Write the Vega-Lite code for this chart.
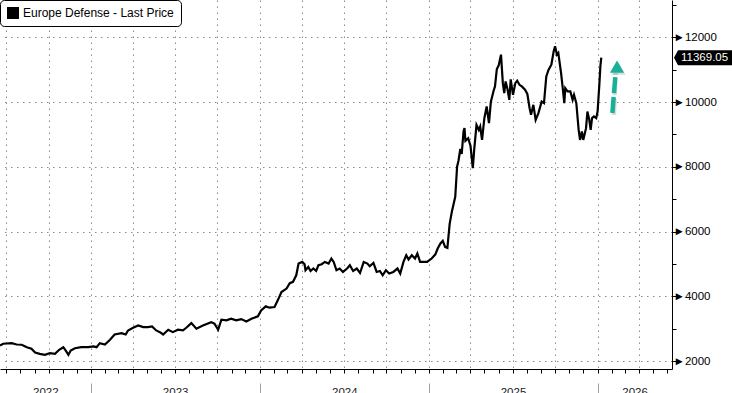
{
  "$schema": "https://vega.github.io/schema/vega-lite/v6.json",
  "width": 672,
  "height": 369,
  "autosize": {"type": "none"},
  "padding": {"left": 0, "top": 0, "right": 60, "bottom": 24},
  "background": "white",
  "config": {
    "view": {"stroke": null},
    "font": "Liberation Sans",
    "axis": {"labelFont": "Liberation Sans", "labelFontSize": 11.5, "labelColor": "#111", "title": null}
  },
  "data": {"values": [
    {"date": "2022-06-18", "price": 2486}, {"date": "2022-06-25", "price": 2539}, {"date": "2022-07-13", "price": 2557},
    {"date": "2022-07-24", "price": 2517}, {"date": "2022-08-04", "price": 2508}, {"date": "2022-08-15", "price": 2433},
    {"date": "2022-08-25", "price": 2384}, {"date": "2022-09-02", "price": 2269}, {"date": "2022-09-12", "price": 2229},
    {"date": "2022-09-23", "price": 2198}, {"date": "2022-10-04", "price": 2248}, {"date": "2022-10-15", "price": 2229},
    {"date": "2022-10-24", "price": 2353}, {"date": "2022-11-02", "price": 2433}, {"date": "2022-11-08", "price": 2310},
    {"date": "2022-11-13", "price": 2198}, {"date": "2022-11-18", "price": 2331}, {"date": "2022-11-27", "price": 2402},
    {"date": "2022-12-11", "price": 2433}, {"date": "2022-12-26", "price": 2433}, {"date": "2023-01-06", "price": 2455},
    {"date": "2023-01-13", "price": 2433}, {"date": "2023-01-20", "price": 2557}, {"date": "2023-01-31", "price": 2517},
    {"date": "2023-02-11", "price": 2662}, {"date": "2023-02-21", "price": 2826}, {"date": "2023-03-08", "price": 2867},
    {"date": "2023-03-17", "price": 2826}, {"date": "2023-03-22", "price": 2950}, {"date": "2023-04-02", "price": 3034},
    {"date": "2023-04-13", "price": 3105}, {"date": "2023-04-24", "price": 3053}, {"date": "2023-05-04", "price": 3053},
    {"date": "2023-05-13", "price": 3074}, {"date": "2023-05-22", "price": 2950}, {"date": "2023-05-30", "price": 2898},
    {"date": "2023-06-06", "price": 2826}, {"date": "2023-06-17", "price": 2972}, {"date": "2023-06-27", "price": 2898},
    {"date": "2023-07-08", "price": 2972}, {"date": "2023-07-19", "price": 2950}, {"date": "2023-07-26", "price": 3034},
    {"date": "2023-08-06", "price": 3176}, {"date": "2023-08-17", "price": 3003}, {"date": "2023-08-31", "price": 3105},
    {"date": "2023-09-18", "price": 3207}, {"date": "2023-09-25", "price": 3158}, {"date": "2023-10-03", "price": 2972},
    {"date": "2023-10-10", "price": 3282}, {"date": "2023-10-21", "price": 3260}, {"date": "2023-10-31", "price": 3313},
    {"date": "2023-11-11", "price": 3260}, {"date": "2023-11-22", "price": 3300}, {"date": "2023-12-03", "price": 3229},
    {"date": "2023-12-14", "price": 3313}, {"date": "2023-12-28", "price": 3384}, {"date": "2024-01-04", "price": 3570},
    {"date": "2024-01-14", "price": 3694}, {"date": "2024-01-22", "price": 3653}, {"date": "2024-02-02", "price": 3672},
    {"date": "2024-02-09", "price": 3879}, {"date": "2024-02-17", "price": 4136}, {"date": "2024-02-28", "price": 4242},
    {"date": "2024-03-06", "price": 4410}, {"date": "2024-03-13", "price": 4450}, {"date": "2024-03-20", "price": 4653},
    {"date": "2024-03-25", "price": 5015}, {"date": "2024-04-02", "price": 5065}, {"date": "2024-04-07", "price": 4994},
    {"date": "2024-04-09", "price": 4808}, {"date": "2024-04-15", "price": 4910}, {"date": "2024-04-20", "price": 4786},
    {"date": "2024-04-26", "price": 4861}, {"date": "2024-05-02", "price": 4786}, {"date": "2024-05-07", "price": 4963},
    {"date": "2024-05-14", "price": 4994}, {"date": "2024-05-21", "price": 5065}, {"date": "2024-05-29", "price": 5015},
    {"date": "2024-06-04", "price": 5170}, {"date": "2024-06-09", "price": 5065}, {"date": "2024-06-15", "price": 4808},
    {"date": "2024-06-22", "price": 4861}, {"date": "2024-06-29", "price": 4755}, {"date": "2024-07-08", "price": 4861},
    {"date": "2024-07-14", "price": 4963}, {"date": "2024-07-21", "price": 4786}, {"date": "2024-07-29", "price": 4861},
    {"date": "2024-08-05", "price": 4724}, {"date": "2024-08-13", "price": 5065}, {"date": "2024-08-21", "price": 5015},
    {"date": "2024-08-26", "price": 4932}, {"date": "2024-09-03", "price": 5034}, {"date": "2024-09-10", "price": 4755},
    {"date": "2024-09-17", "price": 4786}, {"date": "2024-09-23", "price": 4653}, {"date": "2024-09-30", "price": 4808},
    {"date": "2024-10-07", "price": 4706}, {"date": "2024-10-16", "price": 4755}, {"date": "2024-10-25", "price": 4861},
    {"date": "2024-10-31", "price": 4706}, {"date": "2024-11-07", "price": 5065}, {"date": "2024-11-13", "price": 5272},
    {"date": "2024-11-18", "price": 5139}, {"date": "2024-11-25", "price": 5272}, {"date": "2024-12-02", "price": 5170},
    {"date": "2024-12-07", "price": 5325}, {"date": "2024-12-13", "price": 5065}, {"date": "2024-12-20", "price": 5065},
    {"date": "2024-12-28", "price": 5065}, {"date": "2025-01-07", "price": 5170}, {"date": "2025-01-15", "price": 5300},
    {"date": "2025-01-20", "price": 5480}, {"date": "2025-01-26", "price": 5635}, {"date": "2025-01-31", "price": 5716},
    {"date": "2025-02-05", "price": 5530}, {"date": "2025-02-10", "price": 5500}, {"date": "2025-02-15", "price": 6250},
    {"date": "2025-02-20", "price": 6640}, {"date": "2025-02-23", "price": 6820}, {"date": "2025-02-27", "price": 7077},
    {"date": "2025-03-03", "price": 8006}, {"date": "2025-03-06", "price": 8190}, {"date": "2025-03-10", "price": 8550},
    {"date": "2025-03-13", "price": 8400}, {"date": "2025-03-17", "price": 9100}, {"date": "2025-03-19", "price": 9193},
    {"date": "2025-03-21", "price": 8800}, {"date": "2025-03-27", "price": 8884}, {"date": "2025-04-01", "price": 8650},
    {"date": "2025-04-06", "price": 7957}, {"date": "2025-04-09", "price": 8522}, {"date": "2025-04-14", "price": 9296},
    {"date": "2025-04-19", "price": 9141}, {"date": "2025-04-22", "price": 9245}, {"date": "2025-04-26", "price": 8832},
    {"date": "2025-05-01", "price": 9500}, {"date": "2025-05-06", "price": 9864}, {"date": "2025-05-11", "price": 9348},
    {"date": "2025-05-15", "price": 10000}, {"date": "2025-05-21", "price": 10350}, {"date": "2025-05-24", "price": 10482},
    {"date": "2025-05-28", "price": 11020}, {"date": "2025-06-01", "price": 11130}, {"date": "2025-06-06", "price": 11464},
    {"date": "2025-06-10", "price": 10584}, {"date": "2025-06-13", "price": 10275}, {"date": "2025-06-16", "price": 10636},
    {"date": "2025-06-20", "price": 10400}, {"date": "2025-06-24", "price": 10069}, {"date": "2025-06-27", "price": 10700},
    {"date": "2025-07-02", "price": 10224}, {"date": "2025-07-07", "price": 10584}, {"date": "2025-07-11", "price": 10660},
    {"date": "2025-07-16", "price": 10533}, {"date": "2025-07-21", "price": 10482}, {"date": "2025-07-28", "price": 10379},
    {"date": "2025-08-02", "price": 10250}, {"date": "2025-08-07", "price": 9800}, {"date": "2025-08-10", "price": 9606},
    {"date": "2025-08-15", "price": 9915}, {"date": "2025-08-20", "price": 9451}, {"date": "2025-08-26", "price": 9657},
    {"date": "2025-09-02", "price": 10017}, {"date": "2025-09-07", "price": 9967}, {"date": "2025-09-12", "price": 10792},
    {"date": "2025-09-17", "price": 10998}, {"date": "2025-09-23", "price": 11154}, {"date": "2025-09-28", "price": 11567},
    {"date": "2025-10-01", "price": 11722}, {"date": "2025-10-05", "price": 11464}, {"date": "2025-10-08", "price": 11516},
    {"date": "2025-10-14", "price": 10894}, {"date": "2025-10-18", "price": 10379}, {"date": "2025-10-21", "price": 9967},
    {"date": "2025-10-23", "price": 10430}, {"date": "2025-10-28", "price": 10327}, {"date": "2025-11-03", "price": 10327},
    {"date": "2025-11-08", "price": 10069}, {"date": "2025-11-11", "price": 10224}, {"date": "2025-11-16", "price": 9967},
    {"date": "2025-11-21", "price": 9142}, {"date": "2025-11-24", "price": 8832}, {"date": "2025-11-28", "price": 9090},
    {"date": "2025-12-01", "price": 8832}, {"date": "2025-12-07", "price": 9193}, {"date": "2025-12-10", "price": 9709},
    {"date": "2025-12-14", "price": 9451}, {"date": "2025-12-17", "price": 9142}, {"date": "2025-12-20", "price": 9503},
    {"date": "2025-12-24", "price": 9555}, {"date": "2025-12-29", "price": 9503}, {"date": "2026-01-01", "price": 9709},
    {"date": "2026-01-05", "price": 10584}, {"date": "2026-01-07", "price": 11101}, {"date": "2026-01-09", "price": 11369.05}
  ]},
  "resolve": {"axis": {"x": "independent", "y": "independent"}},
  "layer": [
    {
      "mark": {"type": "line", "strokeWidth": 2.2, "interpolate": "linear"},
      "encoding": {
        "x": {"field": "date", "type": "temporal",
          "scale": {"type": "utc", "domain": [{"year": 2022, "month": 6, "date": 18, "utc": true}, {"year": 2026, "month": 6, "date": 11, "utc": true}]},
          "axis": {"orient": "bottom", "labels": false, "grid": false, "ticks": true, "tickSize": 4, "tickColor": "black", "domain": true, "domainColor": "black", "domainWidth": 1,
            "values": [
              {"year": 2022, "month": 7, "date": 1, "utc": true}, {"year": 2022, "month": 8, "date": 1, "utc": true}, {"year": 2022, "month": 9, "date": 1, "utc": true},
              {"year": 2022, "month": 10, "date": 1, "utc": true}, {"year": 2022, "month": 11, "date": 1, "utc": true}, {"year": 2022, "month": 12, "date": 1, "utc": true},
              {"year": 2023, "month": 1, "date": 1, "utc": true}, {"year": 2023, "month": 2, "date": 1, "utc": true}, {"year": 2023, "month": 3, "date": 1, "utc": true},
              {"year": 2023, "month": 4, "date": 1, "utc": true}, {"year": 2023, "month": 5, "date": 1, "utc": true}, {"year": 2023, "month": 6, "date": 1, "utc": true},
              {"year": 2023, "month": 7, "date": 1, "utc": true}, {"year": 2023, "month": 8, "date": 1, "utc": true}, {"year": 2023, "month": 9, "date": 1, "utc": true},
              {"year": 2023, "month": 10, "date": 1, "utc": true}, {"year": 2023, "month": 11, "date": 1, "utc": true}, {"year": 2023, "month": 12, "date": 1, "utc": true},
              {"year": 2024, "month": 1, "date": 1, "utc": true}, {"year": 2024, "month": 2, "date": 1, "utc": true}, {"year": 2024, "month": 3, "date": 1, "utc": true},
              {"year": 2024, "month": 4, "date": 1, "utc": true}, {"year": 2024, "month": 5, "date": 1, "utc": true}, {"year": 2024, "month": 6, "date": 1, "utc": true},
              {"year": 2024, "month": 7, "date": 1, "utc": true}, {"year": 2024, "month": 8, "date": 1, "utc": true}, {"year": 2024, "month": 9, "date": 1, "utc": true},
              {"year": 2024, "month": 10, "date": 1, "utc": true}, {"year": 2024, "month": 11, "date": 1, "utc": true}, {"year": 2024, "month": 12, "date": 1, "utc": true},
              {"year": 2025, "month": 1, "date": 1, "utc": true}, {"year": 2025, "month": 2, "date": 1, "utc": true}, {"year": 2025, "month": 3, "date": 1, "utc": true},
              {"year": 2025, "month": 4, "date": 1, "utc": true}, {"year": 2025, "month": 5, "date": 1, "utc": true}, {"year": 2025, "month": 6, "date": 1, "utc": true},
              {"year": 2025, "month": 7, "date": 1, "utc": true}, {"year": 2025, "month": 8, "date": 1, "utc": true}, {"year": 2025, "month": 9, "date": 1, "utc": true},
              {"year": 2025, "month": 10, "date": 1, "utc": true}, {"year": 2025, "month": 11, "date": 1, "utc": true}, {"year": 2025, "month": 12, "date": 1, "utc": true},
              {"year": 2026, "month": 1, "date": 1, "utc": true}, {"year": 2026, "month": 2, "date": 1, "utc": true}, {"year": 2026, "month": 3, "date": 1, "utc": true},
              {"year": 2026, "month": 4, "date": 1, "utc": true}, {"year": 2026, "month": 5, "date": 1, "utc": true}, {"year": 2026, "month": 6, "date": 1, "utc": true}
            ]}},
        "y": {"field": "price", "type": "quantitative",
          "scale": {"domain": [1760, 13150], "nice": false, "zero": false},
          "axis": {"orient": "right", "labels": false, "grid": false, "tickSize": 4, "tickColor": "black", "domainColor": "black", "domainWidth": 1,
            "values": [2000, 3000, 4000, 5000, 6000, 7000, 8000, 9000, 10000, 11000, 12000, 13000]}},
        "color": {"datum": "Europe Defense - Last Price", "type": "nominal",
          "scale": {"range": ["black"]},
          "legend": {"title": null, "orient": "top-left", "offset": 0, "padding": 7, "cornerRadius": 4,
            "strokeColor": "black", "fillColor": "white", "symbolType": "square", "symbolSize": 144,
            "symbolFillColor": "black", "symbolStrokeColor": "black", "symbolStrokeWidth": 0,
            "labelFont": "Liberation Sans", "labelFontSize": 12, "labelColor": "black", "labelOffset": 4, "labelLimit": 300}}
      }
    },
    {
      "data": {"values": [{"from_date": "2026-02-02", "from_value": 9662, "to_date": "2026-02-09", "to_value": 10897, "head_date": "2026-02-12", "head_value": 11091}]},
      "mark": {"type": "rule", "color": "#888", "opacity": 0.3, "strokeWidth": 4.5, "strokeDash": [16, 4], "xOffset": 1.5, "yOffset": 2},
      "encoding": {
        "x": {"field": "from_date", "type": "temporal",
          "scale": {"type": "utc", "domain": [{"year": 2022, "month": 6, "date": 18, "utc": true}, {"year": 2026, "month": 6, "date": 11, "utc": true}]},
          "axis": {"orient": "bottom", "labels": false, "ticks": false, "domain": false, "grid": true, "gridColor": "#8a8a8a", "gridDash": [1.5, 4.5], "gridWidth": 1,
            "values": [
              {"year": 2022, "month": 7, "date": 1, "utc": true}, {"year": 2022, "month": 10, "date": 1, "utc": true},
              {"year": 2023, "month": 1, "date": 1, "utc": true}, {"year": 2023, "month": 4, "date": 1, "utc": true}, {"year": 2023, "month": 7, "date": 1, "utc": true}, {"year": 2023, "month": 10, "date": 1, "utc": true},
              {"year": 2024, "month": 1, "date": 1, "utc": true}, {"year": 2024, "month": 4, "date": 1, "utc": true}, {"year": 2024, "month": 7, "date": 1, "utc": true}, {"year": 2024, "month": 10, "date": 1, "utc": true},
              {"year": 2025, "month": 1, "date": 1, "utc": true}, {"year": 2025, "month": 4, "date": 1, "utc": true}, {"year": 2025, "month": 7, "date": 1, "utc": true}, {"year": 2025, "month": 10, "date": 1, "utc": true},
              {"year": 2026, "month": 1, "date": 1, "utc": true}, {"year": 2026, "month": 4, "date": 1, "utc": true}
            ]}},
        "y": {"field": "from_value", "type": "quantitative",
          "scale": {"domain": [1760, 13150], "nice": false, "zero": false},
          "axis": {"orient": "right", "grid": true, "gridColor": "#8a8a8a", "gridDash": [1.5, 4.5], "gridWidth": 1, "ticks": false, "domain": false,
            "labelPadding": 1, "labelColor": "black", "labelExpr": "'►' + datum.value",
            "values": [2000, 4000, 6000, 8000, 10000, 12000]}},
        "x2": {"field": "to_date"},
        "y2": {"field": "to_value"}
      }
    },
    {
      "data": {"values": [{"from_date": "2026-02-02", "from_value": 9662, "to_date": "2026-02-09", "to_value": 10897, "head_date": "2026-02-12", "head_value": 11091}]},
      "mark": {"type": "rule", "color": "#19b09a", "strokeWidth": 4.5, "strokeDash": [16, 4]},
      "encoding": {
        "x": {"field": "from_date", "type": "temporal",
          "scale": {"type": "utc", "domain": [{"year": 2022, "month": 6, "date": 18, "utc": true}, {"year": 2026, "month": 6, "date": 11, "utc": true}]},
          "axis": {"orient": "bottom", "labels": false, "grid": false, "domain": false, "offset": 14, "tickSize": 12, "tickColor": "#a0a0a0", "tickWidth": 1,
            "values": [{"year": 2023, "month": 1, "date": 1, "utc": true}, {"year": 2024, "month": 1, "date": 1, "utc": true}, {"year": 2025, "month": 1, "date": 1, "utc": true}, {"year": 2026, "month": 1, "date": 1, "utc": true}]}},
        "y": {"field": "from_value", "type": "quantitative", "scale": {"domain": [1760, 13150], "nice": false, "zero": false}, "axis": null},
        "x2": {"field": "to_date"},
        "y2": {"field": "to_value"}
      }
    },
    {
      "data": {"values": [{"from_date": "2026-02-02", "from_value": 9662, "to_date": "2026-02-09", "to_value": 10897, "head_date": "2026-02-12", "head_value": 11091}]},
      "mark": {"type": "point", "shape": "triangle-up", "size": 200, "filled": true, "color": "#888", "opacity": 0.3, "xOffset": 1.5, "yOffset": 2},
      "encoding": {
        "x": {"field": "head_date", "type": "temporal", "scale": {"type": "utc", "domain": [{"year": 2022, "month": 6, "date": 18, "utc": true}, {"year": 2026, "month": 6, "date": 11, "utc": true}]}, "axis": null},
        "y": {"field": "head_value", "type": "quantitative", "scale": {"domain": [1760, 13150], "nice": false, "zero": false}, "axis": null}
      }
    },
    {
      "data": {"values": [{"from_date": "2026-02-02", "from_value": 9662, "to_date": "2026-02-09", "to_value": 10897, "head_date": "2026-02-12", "head_value": 11091}]},
      "mark": {"type": "point", "shape": "triangle-up", "size": 200, "filled": true, "color": "#19b09a", "opacity": 1},
      "encoding": {
        "x": {"field": "head_date", "type": "temporal",
          "scale": {"type": "utc", "domain": [{"year": 2022, "month": 6, "date": 18, "utc": true}, {"year": 2026, "month": 6, "date": 11, "utc": true}]},
          "axis": {"orient": "bottom", "ticks": false, "domain": false, "grid": false, "format": "%Y", "labelPadding": 17, "labelColor": "#222", "labelFontSize": 11.5,
            "values": [{"year": 2022, "month": 9, "date": 24, "utc": true}, {"year": 2023, "month": 7, "date": 2, "utc": true}, {"year": 2024, "month": 7, "date": 2, "utc": true}, {"year": 2025, "month": 7, "date": 2, "utc": true}, {"year": 2026, "month": 3, "date": 22, "utc": true}]}},
        "y": {"field": "head_value", "type": "quantitative", "scale": {"domain": [1760, 13150], "nice": false, "zero": false}, "axis": null}
      }
    },
    {
      "transform": [
        {"window": [{"op": "row_number", "as": "rank"}], "sort": [{"field": "date", "order": "descending"}]},
        {"filter": "datum.rank == 1"}
      ],
      "mark": {"type": "point", "shape": "M2,0L6,-7.5L62,-7.5L62,7.5L6,7.5Z", "size": 4, "filled": true, "color": "black", "opacity": 1, "strokeWidth": 0},
      "encoding": {
        "x": {"value": "width"},
        "y": {"field": "price", "type": "quantitative", "scale": {"domain": [1760, 13150], "nice": false, "zero": false}, "axis": null}
      }
    },
    {
      "transform": [
        {"window": [{"op": "row_number", "as": "rank"}], "sort": [{"field": "date", "order": "descending"}]},
        {"filter": "datum.rank == 1"}
      ],
      "mark": {"type": "text", "align": "left", "baseline": "middle", "dx": 9, "color": "white", "font": "Liberation Sans", "fontSize": 11.5},
      "encoding": {
        "x": {"value": "width"},
        "y": {"field": "price", "type": "quantitative", "scale": {"domain": [1760, 13150], "nice": false, "zero": false}, "axis": null},
        "text": {"field": "price", "type": "quantitative", "format": ".2f"}
      }
    }
  ]
}
